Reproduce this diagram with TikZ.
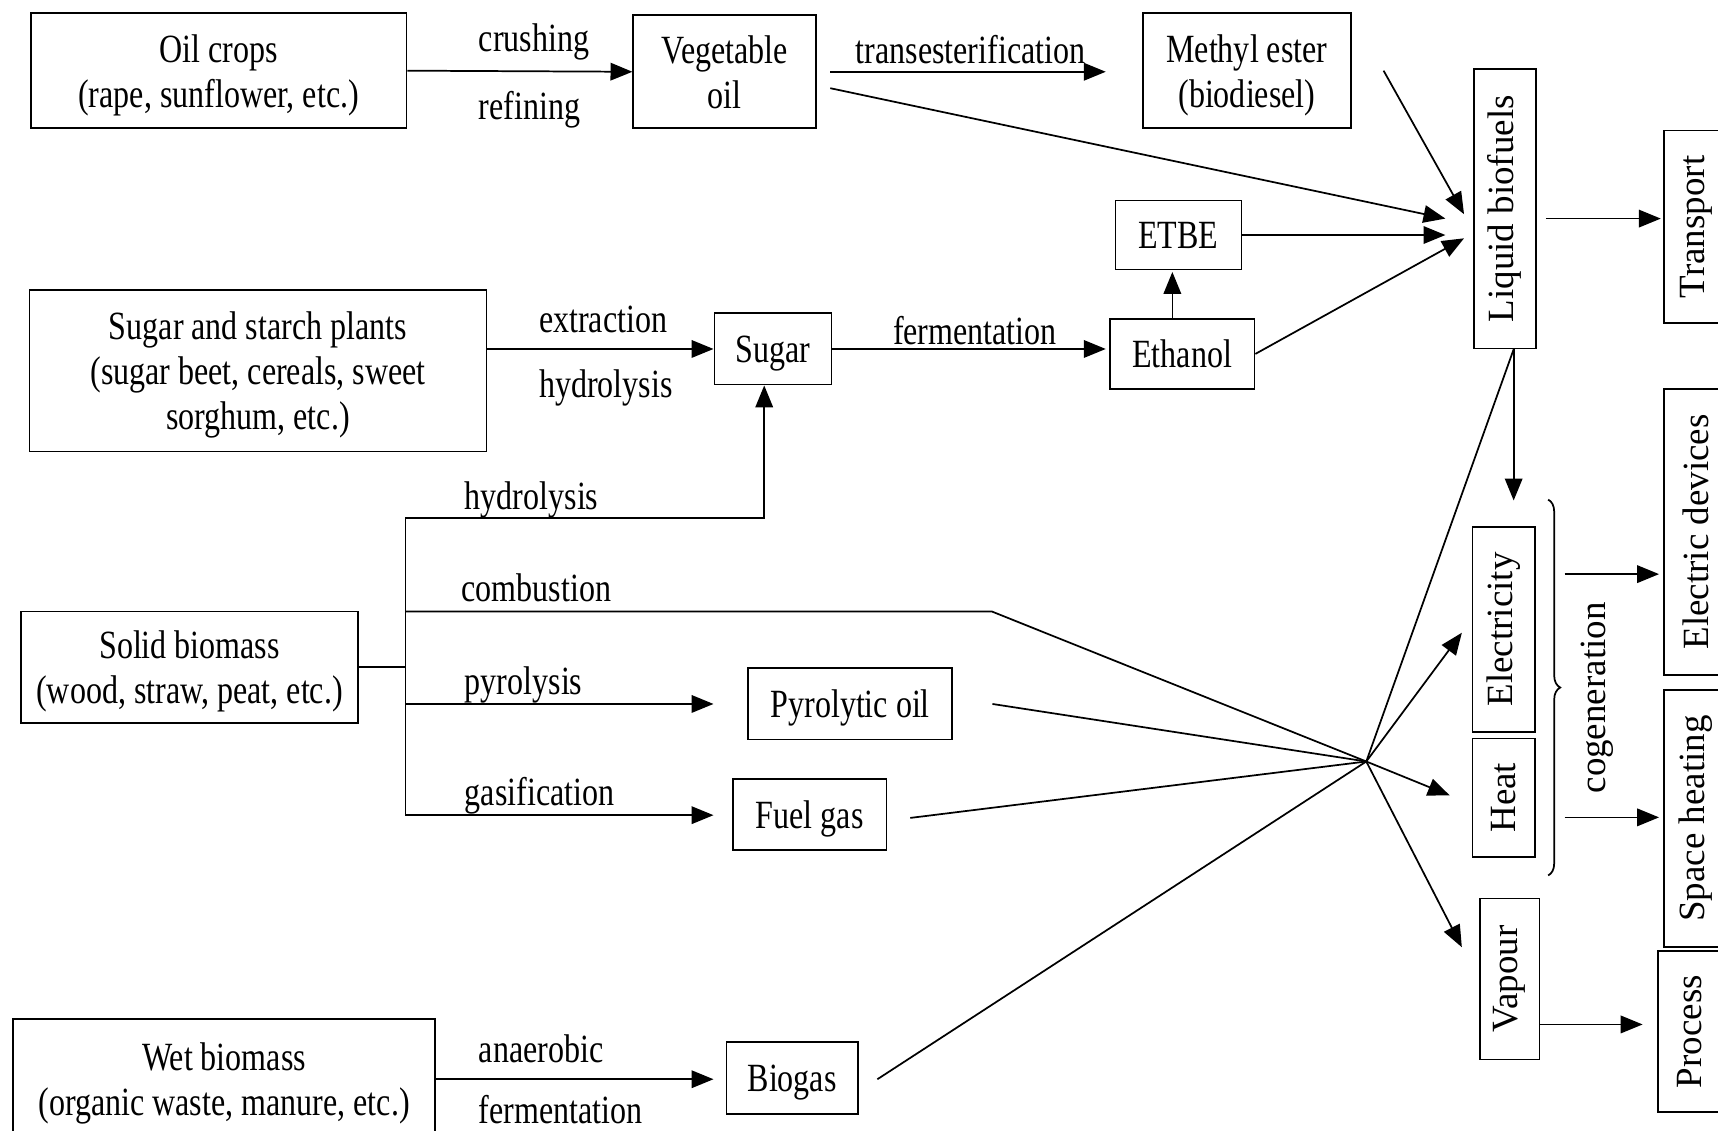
\documentclass[tikz,border=0pt]{standalone}
\usepackage{fontspec}
\setmainfont{Liberation Serif}[FakeStretch=0.8]
\newfontfamily\uprfont{Liberation Serif}
\usepackage{tikz}
\usetikzlibrary{arrows.meta,calc,decorations.pathreplacing}
\tikzset{every node/.append style={font=\fontsize{10.4}{11.7}\selectfont}}
\newcommand{\vtext}[1]{\rotatebox{90}{\uprfont\fontsize{9.6}{11}\selectfont #1}}

\begin{document}
\begin{tikzpicture}[x=0.1mm,y=-0.1mm,
  box/.style={draw,line width=0.45pt,align=center,inner sep=0pt,text depth=0pt},
  lab/.style={inner sep=1pt},
  arr/.style={line width=0.45pt,-{Triangle[length=2mm,width=1.6mm]}},
  ln/.style={line width=0.45pt},
  brc/.style={line width=0.45pt,decorate,decoration={brace,amplitude=1.1mm}}]
\path[use as bounding box] (0,0) rectangle (1568,1032);
\clip (0,0) rectangle (1568,1032);
\node[box,minimum width=34.3mm,minimum height=10.5mm] (oil) at (199.5,64.5) {Oil crops\\(rape, sunflower, etc.)};
\node[box,minimum width=16.7mm,minimum height=10.3mm] (vegoil) at (661.5,65.5) {Vegetable\\oil};
\node[box,minimum width=19mm,minimum height=10.5mm] (methyl) at (1138,64.5) {Methyl ester\\(biodiesel)};
\node[box,minimum width=5.7mm,minimum height=25.5mm] (liquid) at (1373.5,190.5) {\vtext{Liquid biofuels}};
\node[box,minimum width=5.8mm,minimum height=17.6mm] (transport) at (1548,207) {\vtext{Transport}};
\node[box,minimum width=11.5mm,minimum height=6.3mm] (etbe) at (1075.5,214.5) {ETBE};
\node[box,minimum width=13.2mm,minimum height=6.4mm] (ethanol) at (1079,323) {Ethanol};
\node[box,minimum width=41.7mm,minimum height=14.7mm] (starch) at (235.5,338.5) {Sugar and starch plants\\(sugar beet, cereals, sweet\\sorghum, etc.)};
\node[box,minimum width=10.7mm,minimum height=6.5mm] (sugar) at (705.5,318.5) {Sugar};
\node[box,minimum width=30.8mm,minimum height=10.2mm] (solid) at (173,609) {Solid biomass\\(wood, straw, peat, etc.)};
\node[box,minimum width=18.6mm,minimum height=6.5mm] (pyro) at (776,642.5) {Pyrolytic oil};
\node[box,minimum width=14mm,minimum height=6.5mm] (fuelgas) at (739,743.5) {Fuel gas};
\node[box,minimum width=38.5mm,minimum height=11mm] (wet) at (204.5,985) {Wet biomass\\(organic waste, manure, etc.)};
\node[box,minimum width=12mm,minimum height=6.6mm] (biogas) at (723,984) {Biogas};
\node[box,minimum width=5.7mm,minimum height=18.7mm] (elec) at (1372.5,574.5) {\vtext{Electricity}};
\node[box,minimum width=5.7mm,minimum height=10.8mm] (heat) at (1372.5,728) {\vtext{Heat}};
\node[box,minimum width=5.4mm,minimum height=14.7mm] (vapour) at (1378,893.5) {\vtext{Vapour}};
\node[box,minimum width=5.8mm,minimum height=26.1mm] (elecdev) at (1548,485.5) {\vtext{Electric devices}};
\node[box,minimum width=5.8mm,minimum height=23.4mm] (space) at (1548,747) {\vtext{Space heating}};
\node[box,minimum width=5.8mm,minimum height=14.7mm] (process) at (1542,941.5) {\vtext{Process}};
\node[lab] (cogen) at (1458,637) {\vtext{cogeneration}};
\coordinate (hub) at (1247,695);
\coordinate (st) at (370,473);
\coordinate (sb) at (370,744);
\coordinate (sc) at (905,558);
\coordinate (bt) at (1413,456);
\coordinate (bb) at (1413,799);
\coordinate (ce) at (1428,524);
\coordinate (cs) at (1428,746);
\coordinate (vp) at ($(vapour.east)+(0,41.5)$);
\draw[arr] (oil.east) -- (vegoil.west)
  node[lab,at start,anchor=west,xshift=6.1mm,yshift=2.6mm] {crushing}
  node[lab,at start,anchor=west,xshift=6.1mm,yshift=-3.6mm] {refining};
\draw[arr,shorten <=1.2mm,shorten >=3.3mm] (vegoil.east) -- (vegoil.east -| methyl.west)
  node[lab,at start,anchor=west,xshift=3.1mm,yshift=2mm] {transesterification};
\draw[arr] ($(vegoil.east)+(12,15)$) -- ($(liquid.west)+(-25,9)$);
\draw[arr] ($(methyl.east)+(29,0)$) -- ($(liquid.west)+(-8,5)$);
\draw[arr,shorten >=2.5mm] (etbe.east) -- (etbe.east -| liquid.west);
\draw[arr] (ethanol.east) -- ($(liquid.west)+(-8,27)$);
\draw[arr] ($(liquid.east)+(8,9)$) -- ++(105,0);
\draw[arr] ($(liquid.south)+(8,0)$) -- ++(0,138);
\draw[ln] ($(liquid.south)+(8,0)$) -- (hub);
\draw[arr] (starch.east |- sugar.west) -- (sugar.west)
  node[lab,at start,anchor=west,xshift=4.3mm,yshift=2.7mm] {extraction}
  node[lab,at start,anchor=west,xshift=4.3mm,yshift=-3.6mm] {hydrolysis};
\draw[arr,shorten >=0.3mm] (sugar.east) -- (sugar.east -| ethanol.west)
  node[lab,at start,anchor=west,xshift=5.1mm,yshift=1.7mm] {fermentation};
\draw[arr] ($(ethanol.north)+(-9,0)$) -- ++(0,-42);
\draw[ln] (solid.east) -- (solid.east -| st);
\draw[ln] (st) -- (sb);
\draw[arr] (st) node[lab,anchor=base west,xshift=5mm,yshift=0.8mm] {hydrolysis} -| ($(sugar.south)+(-8,0)$);
\draw[arr] (st |- sc) node[lab,anchor=base west,xshift=4.7mm,yshift=0.9mm] {combustion} -- (sc) -- (hub) -- ($(heat.west)+(-20,-2)$);
\draw[arr,shorten >=3.1mm] (st |- pyro) node[lab,anchor=base west,xshift=5mm,yshift=0.9mm] {pyrolysis} -- (st |- pyro -| pyro.west);
\draw[arr,shorten >=1.7mm] (sb) node[lab,anchor=base west,xshift=5mm,yshift=0.9mm] {gasification} -- (sb -| fuelgas.west);
\draw[ln] ($(pyro.east)+(36,0)$) -- (hub);
\draw[ln] ($(fuelgas.east)+(21,3)$) -- (hub);
\draw[ln] ($(biogas.east)+(17,1)$) -- (hub);
\draw[arr] (hub) -- ($(elec.west)+(-9,3)$);
\draw[arr] (hub) -- ($(vapour.west)+(-16,-29)$);
\draw[arr,shorten >=1.1mm] (wet.east) -- (wet.east -| biogas.west)
  node[lab,at start,anchor=west,xshift=3.5mm,yshift=2.8mm] {anaerobic}
  node[lab,at start,anchor=base west,xshift=3.5mm,yshift=-4mm] {fermentation};
\draw[brc] (bt) -- (bb);
\draw[arr,shorten >=0.4mm] (ce) -- (ce -| elecdev.west);
\draw[arr,shorten >=0.4mm] (cs) -- (cs -| space.west);
\draw[arr,shorten >=1.3mm] (vp) -- (vp -| process.west);
\end{tikzpicture}
\end{document}
